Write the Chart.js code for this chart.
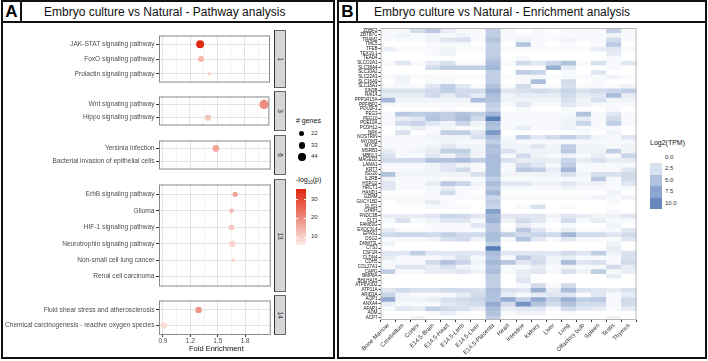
<!DOCTYPE html>
<html>
<head>
<meta charset="utf-8">
<script src="https://cdn.jsdelivr.net/npm/chart.js@4.4.0/dist/chart.umd.min.js"></script>
<style>
  body { margin: 0; width: 708px; height: 361px; position: relative; background: #fff; overflow: hidden;
         font-family: "Liberation Sans", Arial, sans-serif; }
  .panel { position: absolute; top: 0; height: 359px; border: 2px solid #111; box-sizing: border-box; }
  .head { position: absolute; left: 0; top: 0; right: 0; height: 19px; border-bottom: 2px solid #111; }
  .letter { position: absolute; left: 0; top: 0; width: 17px; height: 19px; border-right: 2px solid #111;
            font-weight: bold; font-size: 17px; line-height: 20px; text-align: center; }
  .title { position: absolute; top: 0; line-height: 20px; font-size: 12px; white-space: nowrap; color: #111; }
  .abs { position: absolute; white-space: nowrap; }
  canvas { position: absolute; }
  .strip { position: absolute; left: 274px; width: 10px; background: #d6d6d6; border: 1px solid #666;
           border-left: 1.5px solid #333; }
  .strip span { position: absolute; left: 50%; top: 50%; transform: translate(-50%, -50%) rotate(90deg);
                font-size: 6.5px; color: #1a1a1a; }
</style>
</head>
<body>
<div class="panel" style="left:1px;width:334px;">
  <div class="head"><div class="letter">A</div>
    <div class="title" style="left:41px;">Embryo culture vs Natural - Pathway analysis</div></div>
</div>
<div class="panel" style="left:337px;width:370px;">
  <div class="head"><div class="letter">B</div>
    <div class="title" style="left:35px;">Embryo culture vs Natural - Enrichment analysis</div></div>
</div>
<div id="facets"></div>
<div id="legendA"></div>
<div class="abs" style="left:189px;top:344px;font-size:7.5px;color:#111;">Fold Enrichment</div>
<canvas id="heat" width="305" height="336" style="left:340px;top:22px;"></canvas>
<div id="legendB"></div>

<script>
// ---- Panel A: pathway enrichment ----
const facetIds = ['1', '3', '6', '13', '14'];
const pathways = ['JAK-STAT signaling pathway', 'FoxO signaling pathway', 'Prolactin signaling pathway',
  'Wnt signaling pathway', 'Hippo signaling pathway', 'Yersinia infection',
  'Bacterial invasion of epithelial cells', 'ErbB signaling pathway', 'Glioma', 'HIF-1 signaling pathway',
  'Neurotrophin signaling pathway', 'Non-small cell lung cancer', 'Renal cell carcinoma',
  'Fluid shear stress and atherosclerosis', 'Chemical carcinogenesis - reactive oxygen species'];
const pathwayFacet = ['1', '1', '1', '3', '3', '6', '6', '13', '13', '13', '13', '13', '13', '14', '14'];
const foldEnrichment = [1.31, 1.32, 1.41, 2.02, 1.40, 1.48, 1.20, 1.69, 1.65, 1.65, 1.66, 1.67, 1.16, 1.29, 0.91];
const geneCount = [50, 30, 13, 66, 32, 35, 9, 23, 20, 28, 35, 16, 8, 34, 34];
const negLogP = [35, 14, 10, 20, 12, 17, 6, 17, 13, 11, 9, 9, 6, 19, 8];
const majorTicks = [0.9, 1.2, 1.5, 1.8];
const minorTicks = [1.05, 1.35, 1.65, 1.95];
const sizeBreaks = [22, 33, 44];
const pBreaks = [10, 20, 30];

// ---- Panel B: expression heatmap (log2 TPM) ----
const tissues = ['Bone Marrow', 'Cerebellum', 'Cortex', 'E14.5-Brain', 'E14.5-Heart', 'E14.5-Limb', 'E14.5-Liver',
  'E14.5-Placenta', 'Heart', 'Intestine', 'Kidney', 'Liver', 'Lung', 'Olfactory bulb', 'Spleen', 'Testis', 'Thymus'];
const genes = ['ZDBF2', 'ZBTB7C', 'TRAM2', 'TMC5', 'TFEB', 'TEX19.1', 'TEAD4', 'SLCO2A1', 'SLC38A4', 'SLC30A2',
  'SLC22A3', 'SLC16A9', 'SLC16A3', 'SIN3B', 'RAI14', 'PPP1R15A', 'PPFIBP2', 'POU2F3', 'PEG3', 'PEG10', 'PDE10A',
  'PCDH12', 'NRK', 'NOSTRIN', 'MYOM3', 'MYOF', 'MSRB3', 'MBNL3', 'MAGED2', 'LAMA1', 'KRT7', 'ISG20', 'IL2RB',
  'HSPG2', 'HRCT1', 'HAND1', 'GZMM', 'GUCY1B2', 'GLIS1', 'GHRH', 'FNDC3B', 'FLT1', 'FAM83G', 'EXOC3L4', 'EPAS1',
  'DSG2', 'DNMT3L', 'CTSJ', 'CSF1R', 'CLDN4', 'CDH5', 'COL27A1', 'CAPG', 'BMP8A', 'BHLHA15', 'ATP6V0D2', 'ATP11A',
  'ARID3A', 'AQP1', 'ANXA4', 'AFAP1', 'ADM', 'ACP7'];
const expr = [
  [0.5,0.5,3,4.5,1.5,0.5,0.5,4,0.5,0,0.5,0,0.5,0.5,0.5,4,0.5],
  [0.5,1,0.5,1,0.5,1,0.5,4,0.5,0.5,0.5,0.5,0.5,0.5,0.5,1,0.5],
  [0.5,0.5,0.5,1,2,2.5,0.5,5,0.5,1,0.5,0.5,1,0.5,0.5,3,0.5],
  [0,0,0,0.5,0.5,0.5,0,4,0,5,0.5,0,0.5,0,0.5,4.5,0],
  [1.5,0.5,0.5,0.5,1,0.5,0.5,4,0.5,0.5,0.5,0.5,0.5,0.5,1.5,2,0.5],
  [0,0,0,0.5,1,0,0,4,0,0,0,0,0,0,0,1.5,0],
  [0,0,0,0,0,0,0,4.5,0,0.5,0,0,0,0,0,0.5,0],
  [0.5,2,0.5,1.5,2.5,0.5,0.5,5.5,0.5,3,2,3.5,5,0.5,2.5,0.5,2],
  [0,0,0,3,4,4,4,6,0,0,0,6.5,1.5,0,0,0.5,0],
  [0,0,0,0,0,0,0,4,0,4,3.5,0,0.5,0,2,0,0],
  [0.5,1,0.5,0.5,0.5,0.5,0.5,4,0.5,0.5,0.5,0.5,0.5,0.5,0.5,1,0.5],
  [0,1,0,0.5,0.5,0,0,4,0,0.5,5.5,0,3,0,0.5,0,0],
  [0.5,0.5,0.5,2,4,2,0.5,5,0.5,3,0.5,0.5,2.5,0.5,0.5,0.5,1],
  [2.5,2.5,2.5,3,4,3,3,6.5,2,2.5,3,2.5,3.5,2.5,3,3.5,4],
  [1.5,1.5,1.5,3,1.5,3,1.5,5.5,1,1.5,1.5,1.5,3,1.5,2,5.5,1.5],
  [6,1,1,1,1,1,5.5,5,1,1,1,1,2.5,1,2.5,1,1],
  [0.5,0.5,0.5,0.5,0.5,0.5,0.5,4,0.5,2,0.5,0.5,2,1,0.5,0.5,0.5],
  [0,0,0,0,0.5,0,0,3.5,0,0.5,0,0,0.5,0,0,0.5,0],
  [0.5,4.5,4,4.5,4,5,4,6,0.5,0.5,0.5,0.5,0.5,5,0.5,2,0.5],
  [0.5,1.5,2,5,4,5.5,3,10.5,0.5,0.5,0.5,0.5,1,1.5,0.5,3,0.5],
  [0.5,3,3.5,2,1,3.5,1,5.5,0.5,0.5,0.5,0.5,1,3.5,0.5,4,0.5],
  [0,0.5,1.5,0.5,1,0.5,0.5,5,0.5,1.5,0.5,0.5,1,0.5,0.5,0.5,0],
  [0,2.5,0,0.5,4,4,2,8.5,0,0,0,0,0,0.5,0,1,0],
  [0.5,0.5,0.5,1,1,1,2.5,5.5,0.5,4,2,3,4,2.5,1,0.5,2],
  [0.5,0.5,0.5,0.5,1,0.5,0.5,4,1,0.5,0.5,0.5,0.5,0.5,0.5,0.5,0.5],
  [0.5,0.5,0.5,1,2,1,1,5.5,1,1,2,1,4,1,1,0.5,1],
  [1.5,0.5,1,1.5,4,4,1,5,2.5,1,1,1,4.5,1,1,4,1],
  [2.5,0.5,0.5,2,1,3,1,5.5,0.5,3,1,0.5,1,0.5,1.5,0.5,3.5],
  [3,3,3,5,5,5.5,4,5.5,2.5,1.5,1.5,1.5,3.5,1.5,2.5,1.5,1.5],
  [0.5,0.5,0.5,1,2,1,0.5,5.5,0.5,3,2,0.5,4,0.5,0.5,0.5,0.5],
  [0.5,0.5,0.5,1,2,3,0.5,5.5,0.5,4.5,4,1.5,6,0.5,0.5,0.5,2],
  [5,1,1,1,1,1,2.5,5.5,1,1,1,1,2.5,1,2.5,2.5,3],
  [1,0.5,0.5,0.5,0.5,0.5,0.5,4,0.5,0.5,0.5,0.5,0.5,0.5,4.5,0.5,3],
  [2,0.5,0.5,1.5,4.5,3.5,1,5.5,2,2,1,1,2,1,1,0.5,2],
  [2,0.5,0.5,0.5,1.5,0.5,0.5,4.5,0.5,0.5,0.5,0.5,1,0.5,0.5,0.5,0.5],
  [0,0,0,0.5,3,0.5,0,6,0,0,0,0,0,0,0,1,0],
  [0.5,0.5,0.5,0.5,0.5,0.5,0.5,3.5,0.5,0.5,0.5,0.5,0.5,0.5,1,0.5,1],
  [0,0.5,0.5,1.5,0.5,0,0,4,0,0,0,0,0,0,0,0.5,0],
  [0,0,0,0.5,0.5,0.5,0,3.5,0,0.5,2.5,0,0.5,0,0,0,0],
  [0,0,0,0,0,0,0,8,0,0,0,0,0,0,0,0.5,0],
  [1.5,1.5,1.5,2,3.5,3,2,6,2,2,2,1,2,1.5,1,1,2],
  [0.5,2.5,0.5,1,2,2,0.5,6.5,1,3,2,0.5,3,0.5,1.5,0.5,0.5],
  [0,0,0,0.5,0.5,0.5,2,4.5,0,1.5,0.5,0,0.5,0,0,1,0],
  [1.5,0.5,0.5,0.5,0.5,0.5,0.5,4.5,0.5,4.5,2,0.5,1.5,0.5,0.5,0.5,2],
  [3,3.5,3.5,3,4,3,3,5.5,4,3,3.5,3,6,3,3,2,3],
  [0.5,0.5,0.5,1,2.5,3,1,5.5,0.5,5,2,0.5,2,0.5,0.5,0.5,2],
  [1,0,0,0,0,0,0,4,0,0,0,0,0,0,0,1,0],
  [0,0,0,0,0,0,0,11,0,0,0,0,0,0,0,1.5,0],
  [2,2,4,2,2,2,2,5.5,2,2,2,2,3,2,4,1,2.5],
  [1.5,0.5,0.5,0.5,1,2.5,0.5,5,0.5,4.5,2.5,1,1.5,0.5,0.5,0.5,2.5],
  [0.5,0.5,0.5,3,5,3.5,1,6,4.5,2,3,1,5.5,2,2.5,0.5,3],
  [0.5,2,2,1.5,2.5,1,0.5,5,0.5,0.5,1.5,0.5,1,0.5,0.5,3,1.5],
  [4,0.5,0.5,1.5,1.5,2,1,5.5,0.5,1.5,2,0.5,2.5,1,4,0.5,1.5],
  [0,0,0,0,0,0,0,4,0,1.5,0,0,0,0,0,1.5,0],
  [0,0,0,0,0,0,0,4,0,2,0,0,0,0,0,0,0],
  [0,0,0,0,0,0,0,4,0,0.5,3,0.5,3,0,0,0,0],
  [2,3,2.5,2.5,3,3,2.5,5.5,2.5,2,6.5,1.5,5.5,2.5,2,1.5,2.5],
  [3.5,1,0.5,0.5,0.5,1.5,3,5,1.5,0.5,1.5,2,2,0.5,2,0.5,1.5],
  [7,1,1,1.5,2.5,3,3.5,5,7,4,7,4,6.5,4,4.5,0.5,3],
  [1.5,0.5,0.5,0.5,2,2.5,3,7,3,9,5,3,5,3,3,0.5,3],
  [0.5,2,1.5,4,3,2.5,1.5,5.5,1.5,2,2,0.5,3,2,1.5,0.5,1.5],
  [0,0,0,0.5,1.5,0.5,0,5,0.5,1,1,0,0.5,0,0,0,0],
  [0,0,1,0,0,0,0,4,0,0,0,0,0,0,0,1,0]
];
const heatBreaks = [0, 2.5, 5, 7.5, 10];

Chart.defaults.font.family = '"Liberation Sans", Arial, sans-serif';
Chart.defaults.animation = false;

function mix(a, b, t) {
  return 'rgb(' + a.map((v, i) => Math.round(v + (b[i] - v) * t)).join(',') + ')';
}
// colour scales
const P_LO = 5.7, P_HI = 35.9;
function pColor(v) {
  const t = Math.max(0, Math.min(1, (v - P_LO) / (P_HI - P_LO)));
  return mix([252, 236, 232], [224, 36, 12], t);
}
function heatColor(v) {
  return mix([255, 255, 255], [101, 135, 189], Math.min(v, 11.5) / 10);
}
function sizeFor(n) { return Math.sqrt(Math.max(0.34 * n - 1.2, 0.8)); }

const frame = (color) => ({
  id: 'frame',
  afterDatasetsDraw(chart) {
    const a = chart.chartArea, c = chart.ctx;
    c.save(); c.strokeStyle = color; c.lineWidth = 1;
    c.strokeRect(a.left + 0.5, a.top + 0.5, a.right - a.left - 1, a.bottom - a.top - 1);
    c.restore();
  }
});

// facet layout (pixels)
const facetTop = [30, 91, 135, 179, 295];
const facetH = [58, 40, 40, 113, 40];
const facetsDiv = document.getElementById('facets');

facetIds.forEach((fid, k) => {
  const idx = pathways.map((p, i) => i).filter(i => pathwayFacet[i] === fid);
  const names = idx.map(i => pathways[i]);
  const last = k === facetIds.length - 1;
  const cv = document.createElement('canvas');
  cv.width = 270; cv.height = facetH[k] + (last ? 12 : 0);
  cv.style.left = '4px'; cv.style.top = facetTop[k] + 'px';
  facetsDiv.appendChild(cv);
  const strip = document.createElement('div');
  strip.className = 'strip';
  strip.style.top = facetTop[k] + 'px'; strip.style.height = (facetH[k] - 2) + 'px';
  strip.innerHTML = '<span>' + fid + '</span>';
  facetsDiv.appendChild(strip);

  new Chart(cv, {
    type: 'bubble',
    data: { datasets: [{
      data: idx.map((i, j) => ({ x: foldEnrichment[i], y: j, r: sizeFor(geneCount[i]) })),
      backgroundColor: idx.map(i => pColor(negLogP[i])),
      borderWidth: 0, hoverRadius: 0
    }] },
    options: {
      responsive: false,
      layout: { padding: 0 },
      plugins: { legend: { display: false }, tooltip: { enabled: false } },
      scales: {
        x: {
          type: 'linear', min: 0.857, max: 2.08,
          afterBuildTicks: s => { s.ticks = majorTicks.concat(minorTicks).map(v => ({ value: v })); },
          afterFit: s => { s.height = last ? 12 : 0; },
          grid: { color: c => majorTicks.includes(c.tick.value) ? '#e3e3e3' : '#f2f2f2',
                  drawTicks: last, tickLength: 2, tickColor: c => majorTicks.includes(c.tick.value) ? '#333' : 'rgba(0,0,0,0)' },
          border: { display: false },
          ticks: { display: last, padding: 0, font: { size: 6.5 }, color: '#4d4d4d', autoSkip: false, maxRotation: 0,
                   callback: v => majorTicks.includes(v) ? v.toFixed(1) : '' }
        },
        y: {
          type: 'linear', min: -0.6, max: names.length - 0.4, reverse: true,
          afterBuildTicks: s => { s.ticks = names.map((n, j) => ({ value: j })); },
          afterFit: s => { s.width = 155; },
          grid: { color: '#e3e3e3', tickLength: 3, tickColor: '#333' },
          border: { display: false },
          ticks: { padding: 1.5, font: { size: 6.6 }, color: '#4d4d4d', autoSkip: false, callback: v => names[v] }
        }
      }
    },
    plugins: [frame('#8a8a8a')]
  });
});

// legends for panel A
const legA = document.getElementById('legendA');
let html = '<div class="abs" style="left:296px;top:117px;font-size:7px;color:#111;"># genes</div>';
const sizeY = [134, 145.5, 157];
sizeBreaks.forEach((n, i) => {
  const r = sizeFor(n);
  html += '<div class="abs" style="left:' + (302 - r) + 'px;top:' + (sizeY[i] - r) + 'px;width:' + (2 * r) + 'px;height:' + (2 * r) +
          'px;border-radius:50%;background:#000;"></div>';
  html += '<div class="abs" style="left:311px;top:' + (sizeY[i] - 4) + 'px;font-size:6px;color:#333;">' + n + '</div>';
});
html += '<div class="abs" style="left:296px;top:176px;font-size:7px;color:#111;">-log<sub style="font-size:4.5px;">10</sub>(p)</div>';
const stops = [];
for (let s = 0; s <= 10; s++) stops.push(pColor(P_HI - (P_HI - P_LO) * s / 10) + ' ' + (s * 10) + '%');
html += '<div class="abs" style="left:296px;top:189px;width:10px;height:56px;background:linear-gradient(' + stops.join(',') + ');"></div>';
pBreaks.forEach(v => {
  const y = 189 + (P_HI - v) / (P_HI - P_LO) * 56;
  html += '<div class="abs" style="left:296px;top:' + (y - 0.5) + 'px;width:2px;height:1px;background:#fff;"></div>';
  html += '<div class="abs" style="left:304px;top:' + (y - 0.5) + 'px;width:2px;height:1px;background:#fff;"></div>';
  html += '<div class="abs" style="left:311px;top:' + (y - 4) + 'px;font-size:6px;color:#333;">' + v + '</div>';
});
legA.innerHTML = html;

// ---- heatmap: one stacked unit tile per gene and tissue, coloured by expression ----
new Chart(document.getElementById('heat'), {
  type: 'bar',
  data: {
    labels: tissues,
    datasets: genes.map((g, i) => ({
      label: g,
      data: tissues.map(() => 1),
      backgroundColor: expr[i].map(heatColor),
      borderWidth: 0, barPercentage: 1, categoryPercentage: 1
    }))
  },
  options: {
    responsive: false,
    layout: { padding: { top: 6, right: 8.5, left: 0, bottom: 0 } },
    plugins: { legend: { display: false }, tooltip: { enabled: false } },
    scales: {
      x: {
        stacked: true,
        afterFit: s => { s.height = 38; },
        grid: { drawOnChartArea: false, tickLength: 2, tickColor: '#333' },
        border: { display: false },
        ticks: { font: { size: 6 }, color: '#333', minRotation: 45, maxRotation: 45, padding: 0, autoSkip: false }
      },
      y: {
        stacked: true, min: 0, max: genes.length, reverse: true,
        afterBuildTicks: s => { s.ticks = genes.map((g, i) => ({ value: i + 0.5 })); },
        afterFit: s => { s.width = 40.5; },
        grid: { drawOnChartArea: false, tickLength: 2, tickColor: '#333' },
        border: { display: false },
        ticks: { font: { size: 4.5 }, color: '#111', padding: 1, autoSkip: false, callback: v => genes[Math.floor(v)] }
      }
    }
  },
  plugins: [frame('#b5b5b5')]
});

// legend for panel B
let hb = '<div class="abs" style="left:650px;top:139px;font-size:7px;color:#111;">Log2(TPM)</div>';
heatBreaks.forEach((v, i) => {
  const y = 151.5 + i * 11.5;
  hb += '<div class="abs" style="left:650px;top:' + y + 'px;width:12px;height:11.5px;background:' + heatColor(v) + ';"></div>';
  hb += '<div class="abs" style="left:665px;top:' + (y + 2) + 'px;font-size:6px;color:#333;">' + v.toFixed(1) + '</div>';
});
document.getElementById('legendB').innerHTML = hb;
</script>
</body>
</html>
